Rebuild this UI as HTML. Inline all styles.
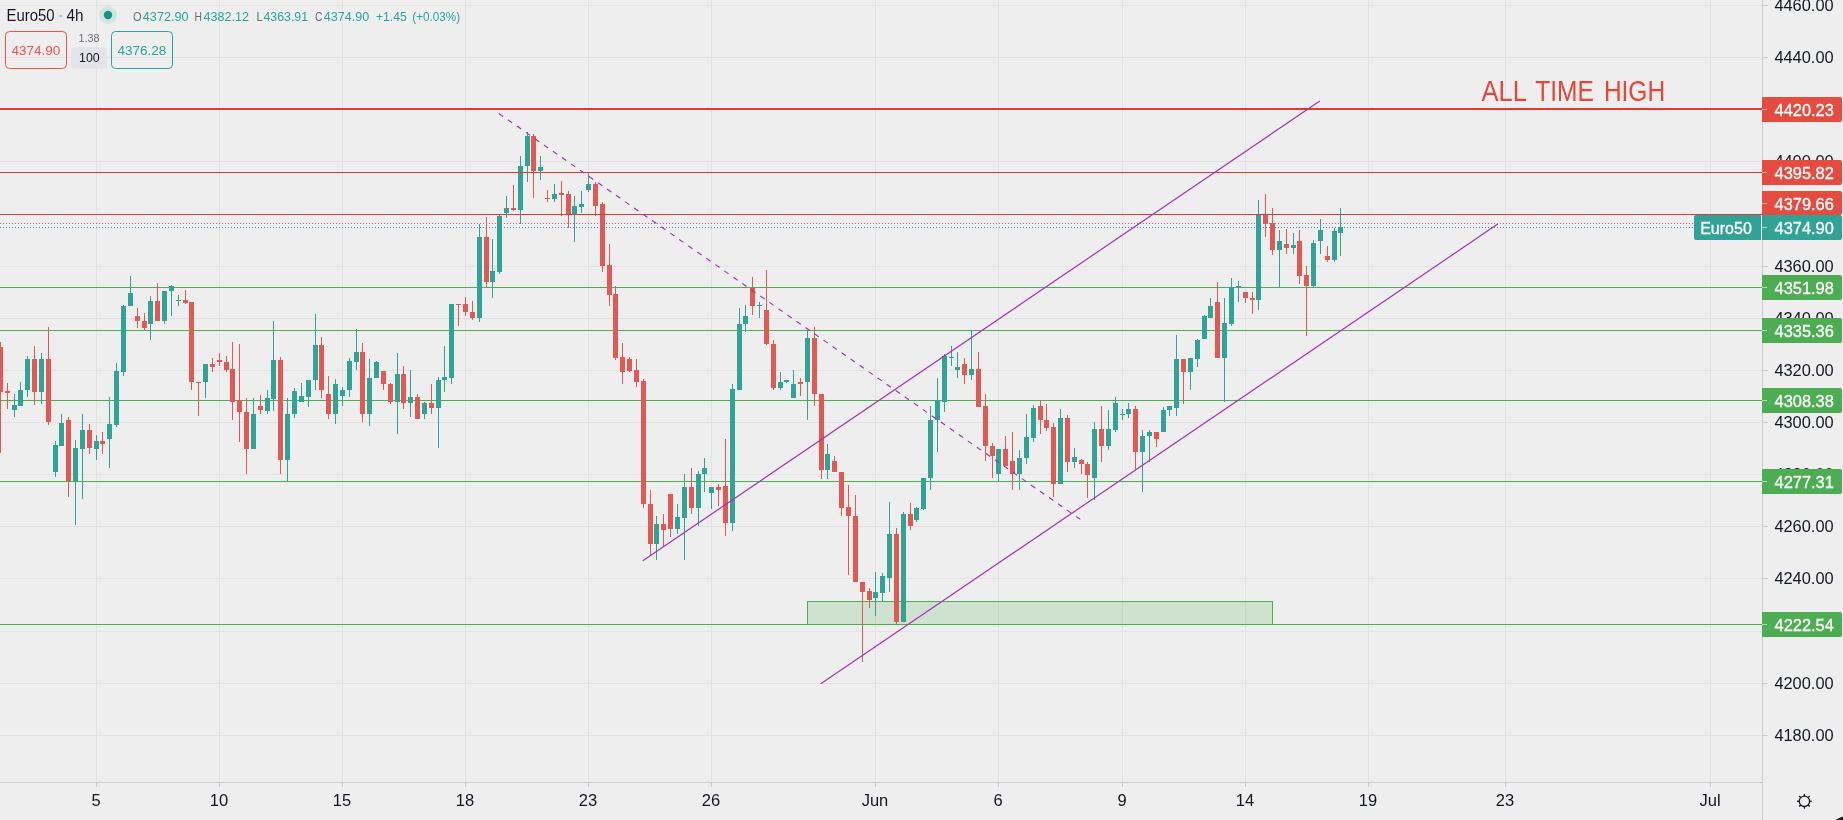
<!DOCTYPE html>
<html><head><meta charset="utf-8"><title>Euro50 4h</title>
<style>
html,body{margin:0;padding:0;background:#eeeeee;width:1843px;height:820px;overflow:hidden;}
svg{display:block;font-family:"Liberation Sans", sans-serif;will-change:transform;}
</style></head><body>
<svg width="1843" height="820" viewBox="0 0 1843 820">
<rect x="0" y="0" width="1843" height="820" fill="#eeeeee"/>
<g fill="#e2e2e2" shape-rendering="crispEdges">
<rect x="0" y="5" width="1762" height="1"/>
<rect x="0" y="57" width="1762" height="1"/>
<rect x="0" y="109" width="1762" height="1"/>
<rect x="0" y="161" width="1762" height="1"/>
<rect x="0" y="214" width="1762" height="1"/>
<rect x="0" y="266" width="1762" height="1"/>
<rect x="0" y="318" width="1762" height="1"/>
<rect x="0" y="370" width="1762" height="1"/>
<rect x="0" y="422" width="1762" height="1"/>
<rect x="0" y="474" width="1762" height="1"/>
<rect x="0" y="526" width="1762" height="1"/>
<rect x="0" y="578" width="1762" height="1"/>
<rect x="0" y="631" width="1762" height="1"/>
<rect x="0" y="683" width="1762" height="1"/>
<rect x="0" y="735" width="1762" height="1"/>
<rect x="96" y="0" width="1" height="782"/>
<rect x="219" y="0" width="1" height="782"/>
<rect x="342" y="0" width="1" height="782"/>
<rect x="465" y="0" width="1" height="782"/>
<rect x="588" y="0" width="1" height="782"/>
<rect x="711" y="0" width="1" height="782"/>
<rect x="875" y="0" width="1" height="782"/>
<rect x="998" y="0" width="1" height="782"/>
<rect x="1122" y="0" width="1" height="782"/>
<rect x="1245" y="0" width="1" height="782"/>
<rect x="1368" y="0" width="1" height="782"/>
<rect x="1505" y="0" width="1" height="782"/>
<rect x="1710" y="0" width="1" height="782"/>
</g>
<rect x="807.5" y="601.5" width="465" height="23" fill="#4dad52" fill-opacity="0.19" stroke="#4dad52" stroke-width="1" shape-rendering="crispEdges"/>
<g fill="#4dad52" shape-rendering="crispEdges">
<rect x="0" y="287" width="1762" height="1"/>
<rect x="0" y="330" width="1762" height="1"/>
<rect x="0" y="400" width="1762" height="1"/>
<rect x="0" y="481" width="1762" height="1"/>
<rect x="0" y="624" width="1762" height="1"/>
</g>
<g shape-rendering="crispEdges">
<rect x="0" y="342" width="1" height="111" fill="#e15955"/>
<rect x="-2" y="347" width="5" height="45" fill="#e15955"/>
<rect x="7" y="383" width="1" height="26" fill="#e15955"/>
<rect x="5" y="391" width="5" height="2" fill="#e15955"/>
<rect x="14" y="394" width="1" height="23" fill="#30a296"/>
<rect x="12" y="405" width="5" height="5" fill="#30a296"/>
<rect x="20" y="382" width="1" height="24" fill="#30a296"/>
<rect x="18" y="390" width="5" height="16" fill="#30a296"/>
<rect x="27" y="356" width="1" height="41" fill="#30a296"/>
<rect x="25" y="359" width="5" height="31" fill="#30a296"/>
<rect x="34" y="346" width="1" height="59" fill="#e15955"/>
<rect x="32" y="359" width="5" height="33" fill="#e15955"/>
<rect x="41" y="353" width="1" height="51" fill="#30a296"/>
<rect x="39" y="359" width="5" height="33" fill="#30a296"/>
<rect x="48" y="327" width="1" height="98" fill="#e15955"/>
<rect x="46" y="359" width="5" height="63" fill="#e15955"/>
<rect x="55" y="441" width="1" height="36" fill="#30a296"/>
<rect x="53" y="445" width="5" height="27" fill="#30a296"/>
<rect x="61" y="414" width="1" height="32" fill="#30a296"/>
<rect x="59" y="423" width="5" height="23" fill="#30a296"/>
<rect x="68" y="417" width="1" height="80" fill="#e15955"/>
<rect x="66" y="420" width="5" height="61" fill="#e15955"/>
<rect x="75" y="440" width="1" height="85" fill="#30a296"/>
<rect x="73" y="448" width="5" height="33" fill="#30a296"/>
<rect x="82" y="414" width="1" height="85" fill="#30a296"/>
<rect x="80" y="430" width="5" height="19" fill="#30a296"/>
<rect x="89" y="424" width="1" height="30" fill="#e15955"/>
<rect x="87" y="430" width="5" height="18" fill="#e15955"/>
<rect x="96" y="435" width="1" height="25" fill="#30a296"/>
<rect x="94" y="441" width="5" height="8" fill="#30a296"/>
<rect x="102" y="432" width="1" height="22" fill="#e15955"/>
<rect x="100" y="441" width="5" height="3" fill="#e15955"/>
<rect x="109" y="397" width="1" height="71" fill="#30a296"/>
<rect x="107" y="424" width="5" height="15" fill="#30a296"/>
<rect x="116" y="363" width="1" height="64" fill="#30a296"/>
<rect x="114" y="371" width="5" height="54" fill="#30a296"/>
<rect x="123" y="305" width="1" height="71" fill="#30a296"/>
<rect x="121" y="306" width="5" height="66" fill="#30a296"/>
<rect x="130" y="276" width="1" height="30" fill="#30a296"/>
<rect x="128" y="293" width="5" height="13" fill="#30a296"/>
<rect x="137" y="308" width="1" height="20" fill="#e15955"/>
<rect x="135" y="316" width="5" height="5" fill="#e15955"/>
<rect x="144" y="313" width="1" height="17" fill="#e15955"/>
<rect x="142" y="321" width="5" height="7" fill="#e15955"/>
<rect x="150" y="296" width="1" height="44" fill="#30a296"/>
<rect x="148" y="301" width="5" height="23" fill="#30a296"/>
<rect x="157" y="283" width="1" height="38" fill="#e15955"/>
<rect x="155" y="301" width="5" height="20" fill="#e15955"/>
<rect x="164" y="291" width="1" height="33" fill="#30a296"/>
<rect x="162" y="291" width="5" height="30" fill="#30a296"/>
<rect x="171" y="285" width="1" height="31" fill="#30a296"/>
<rect x="169" y="286" width="5" height="5" fill="#30a296"/>
<rect x="178" y="295" width="1" height="11" fill="#30a296"/>
<rect x="176" y="300" width="5" height="1" fill="#30a296"/>
<rect x="185" y="290" width="1" height="14" fill="#e15955"/>
<rect x="183" y="300" width="5" height="3" fill="#e15955"/>
<rect x="191" y="302" width="1" height="88" fill="#e15955"/>
<rect x="189" y="302" width="5" height="80" fill="#e15955"/>
<rect x="198" y="382" width="1" height="34" fill="#e15955"/>
<rect x="196" y="382" width="5" height="1" fill="#e15955"/>
<rect x="205" y="364" width="1" height="34" fill="#30a296"/>
<rect x="203" y="364" width="5" height="18" fill="#30a296"/>
<rect x="212" y="358" width="1" height="14" fill="#e15955"/>
<rect x="210" y="364" width="5" height="3" fill="#e15955"/>
<rect x="219" y="353" width="1" height="13" fill="#e15955"/>
<rect x="217" y="360" width="5" height="2" fill="#e15955"/>
<rect x="226" y="356" width="1" height="16" fill="#e15955"/>
<rect x="224" y="362" width="5" height="8" fill="#e15955"/>
<rect x="232" y="342" width="1" height="78" fill="#e15955"/>
<rect x="230" y="369" width="5" height="33" fill="#e15955"/>
<rect x="239" y="344" width="1" height="98" fill="#e15955"/>
<rect x="237" y="400" width="5" height="12" fill="#e15955"/>
<rect x="246" y="398" width="1" height="76" fill="#e15955"/>
<rect x="244" y="412" width="5" height="37" fill="#e15955"/>
<rect x="253" y="398" width="1" height="51" fill="#30a296"/>
<rect x="251" y="414" width="5" height="35" fill="#30a296"/>
<rect x="260" y="395" width="1" height="19" fill="#e15955"/>
<rect x="258" y="406" width="5" height="4" fill="#e15955"/>
<rect x="267" y="390" width="1" height="24" fill="#30a296"/>
<rect x="265" y="398" width="5" height="13" fill="#30a296"/>
<rect x="273" y="321" width="1" height="90" fill="#30a296"/>
<rect x="271" y="360" width="5" height="39" fill="#30a296"/>
<rect x="280" y="357" width="1" height="117" fill="#e15955"/>
<rect x="278" y="360" width="5" height="100" fill="#e15955"/>
<rect x="287" y="398" width="1" height="84" fill="#30a296"/>
<rect x="285" y="414" width="5" height="46" fill="#30a296"/>
<rect x="294" y="388" width="1" height="30" fill="#30a296"/>
<rect x="292" y="391" width="5" height="23" fill="#30a296"/>
<rect x="301" y="383" width="1" height="19" fill="#30a296"/>
<rect x="299" y="396" width="5" height="6" fill="#30a296"/>
<rect x="308" y="380" width="1" height="27" fill="#30a296"/>
<rect x="306" y="380" width="5" height="17" fill="#30a296"/>
<rect x="315" y="314" width="1" height="76" fill="#30a296"/>
<rect x="313" y="345" width="5" height="35" fill="#30a296"/>
<rect x="321" y="337" width="1" height="61" fill="#e15955"/>
<rect x="319" y="345" width="5" height="45" fill="#e15955"/>
<rect x="328" y="376" width="1" height="43" fill="#e15955"/>
<rect x="326" y="394" width="5" height="20" fill="#e15955"/>
<rect x="335" y="379" width="1" height="45" fill="#30a296"/>
<rect x="333" y="384" width="5" height="30" fill="#30a296"/>
<rect x="342" y="387" width="1" height="19" fill="#30a296"/>
<rect x="340" y="390" width="5" height="6" fill="#30a296"/>
<rect x="349" y="358" width="1" height="39" fill="#30a296"/>
<rect x="347" y="361" width="5" height="29" fill="#30a296"/>
<rect x="356" y="329" width="1" height="41" fill="#30a296"/>
<rect x="354" y="352" width="5" height="10" fill="#30a296"/>
<rect x="362" y="343" width="1" height="79" fill="#e15955"/>
<rect x="360" y="352" width="5" height="62" fill="#e15955"/>
<rect x="369" y="359" width="1" height="67" fill="#30a296"/>
<rect x="367" y="378" width="5" height="36" fill="#30a296"/>
<rect x="376" y="361" width="1" height="17" fill="#30a296"/>
<rect x="374" y="362" width="5" height="16" fill="#30a296"/>
<rect x="383" y="371" width="1" height="19" fill="#e15955"/>
<rect x="381" y="371" width="5" height="13" fill="#e15955"/>
<rect x="390" y="383" width="1" height="21" fill="#e15955"/>
<rect x="388" y="384" width="5" height="18" fill="#e15955"/>
<rect x="397" y="353" width="1" height="81" fill="#30a296"/>
<rect x="395" y="374" width="5" height="28" fill="#30a296"/>
<rect x="403" y="366" width="1" height="43" fill="#e15955"/>
<rect x="401" y="374" width="5" height="29" fill="#e15955"/>
<rect x="410" y="370" width="1" height="47" fill="#30a296"/>
<rect x="408" y="397" width="5" height="6" fill="#30a296"/>
<rect x="417" y="394" width="1" height="25" fill="#e15955"/>
<rect x="415" y="397" width="5" height="22" fill="#e15955"/>
<rect x="424" y="402" width="1" height="17" fill="#30a296"/>
<rect x="422" y="403" width="5" height="11" fill="#30a296"/>
<rect x="431" y="384" width="1" height="30" fill="#e15955"/>
<rect x="429" y="403" width="5" height="5" fill="#e15955"/>
<rect x="438" y="377" width="1" height="71" fill="#30a296"/>
<rect x="436" y="380" width="5" height="28" fill="#30a296"/>
<rect x="444" y="346" width="1" height="46" fill="#30a296"/>
<rect x="442" y="377" width="5" height="3" fill="#30a296"/>
<rect x="451" y="304" width="1" height="80" fill="#30a296"/>
<rect x="449" y="304" width="5" height="74" fill="#30a296"/>
<rect x="458" y="304" width="1" height="22" fill="#e15955"/>
<rect x="456" y="304" width="5" height="1" fill="#e15955"/>
<rect x="465" y="297" width="1" height="19" fill="#e15955"/>
<rect x="463" y="304" width="5" height="8" fill="#e15955"/>
<rect x="472" y="301" width="1" height="19" fill="#e15955"/>
<rect x="470" y="312" width="5" height="6" fill="#e15955"/>
<rect x="479" y="224" width="1" height="98" fill="#30a296"/>
<rect x="477" y="237" width="5" height="81" fill="#30a296"/>
<rect x="486" y="217" width="1" height="70" fill="#e15955"/>
<rect x="484" y="237" width="5" height="45" fill="#e15955"/>
<rect x="492" y="239" width="1" height="59" fill="#30a296"/>
<rect x="490" y="271" width="5" height="11" fill="#30a296"/>
<rect x="499" y="214" width="1" height="60" fill="#30a296"/>
<rect x="497" y="216" width="5" height="56" fill="#30a296"/>
<rect x="506" y="196" width="1" height="22" fill="#30a296"/>
<rect x="504" y="208" width="5" height="5" fill="#30a296"/>
<rect x="513" y="185" width="1" height="26" fill="#e15955"/>
<rect x="511" y="208" width="5" height="2" fill="#e15955"/>
<rect x="520" y="156" width="1" height="68" fill="#30a296"/>
<rect x="518" y="166" width="5" height="44" fill="#30a296"/>
<rect x="527" y="132" width="1" height="50" fill="#30a296"/>
<rect x="525" y="136" width="5" height="30" fill="#30a296"/>
<rect x="533" y="134" width="1" height="64" fill="#e15955"/>
<rect x="531" y="136" width="5" height="35" fill="#e15955"/>
<rect x="540" y="156" width="1" height="24" fill="#30a296"/>
<rect x="538" y="167" width="5" height="4" fill="#30a296"/>
<rect x="547" y="190" width="1" height="12" fill="#e15955"/>
<rect x="545" y="198" width="5" height="1" fill="#e15955"/>
<rect x="554" y="184" width="1" height="18" fill="#30a296"/>
<rect x="552" y="194" width="5" height="5" fill="#30a296"/>
<rect x="561" y="181" width="1" height="35" fill="#e15955"/>
<rect x="559" y="193" width="5" height="2" fill="#e15955"/>
<rect x="568" y="191" width="1" height="37" fill="#e15955"/>
<rect x="566" y="194" width="5" height="20" fill="#e15955"/>
<rect x="574" y="196" width="1" height="46" fill="#30a296"/>
<rect x="572" y="206" width="5" height="9" fill="#30a296"/>
<rect x="581" y="191" width="1" height="22" fill="#30a296"/>
<rect x="579" y="204" width="5" height="3" fill="#30a296"/>
<rect x="588" y="172" width="1" height="20" fill="#30a296"/>
<rect x="586" y="184" width="5" height="6" fill="#30a296"/>
<rect x="595" y="182" width="1" height="34" fill="#e15955"/>
<rect x="593" y="184" width="5" height="22" fill="#e15955"/>
<rect x="602" y="202" width="1" height="70" fill="#e15955"/>
<rect x="600" y="204" width="5" height="62" fill="#e15955"/>
<rect x="609" y="244" width="1" height="62" fill="#e15955"/>
<rect x="607" y="265" width="5" height="30" fill="#e15955"/>
<rect x="615" y="286" width="1" height="74" fill="#e15955"/>
<rect x="613" y="294" width="5" height="64" fill="#e15955"/>
<rect x="622" y="343" width="1" height="41" fill="#e15955"/>
<rect x="620" y="357" width="5" height="15" fill="#e15955"/>
<rect x="629" y="357" width="1" height="15" fill="#e15955"/>
<rect x="627" y="359" width="5" height="12" fill="#e15955"/>
<rect x="636" y="359" width="1" height="28" fill="#e15955"/>
<rect x="634" y="370" width="5" height="12" fill="#e15955"/>
<rect x="643" y="379" width="1" height="129" fill="#e15955"/>
<rect x="641" y="381" width="5" height="123" fill="#e15955"/>
<rect x="650" y="490" width="1" height="66" fill="#e15955"/>
<rect x="648" y="504" width="5" height="40" fill="#e15955"/>
<rect x="656" y="516" width="1" height="44" fill="#30a296"/>
<rect x="654" y="524" width="5" height="20" fill="#30a296"/>
<rect x="663" y="514" width="1" height="32" fill="#e15955"/>
<rect x="661" y="524" width="5" height="6" fill="#e15955"/>
<rect x="670" y="494" width="1" height="43" fill="#e15955"/>
<rect x="668" y="494" width="5" height="35" fill="#e15955"/>
<rect x="677" y="504" width="1" height="30" fill="#30a296"/>
<rect x="675" y="517" width="5" height="12" fill="#30a296"/>
<rect x="684" y="474" width="1" height="86" fill="#30a296"/>
<rect x="682" y="487" width="5" height="31" fill="#30a296"/>
<rect x="691" y="468" width="1" height="46" fill="#e15955"/>
<rect x="689" y="487" width="5" height="21" fill="#e15955"/>
<rect x="698" y="471" width="1" height="55" fill="#30a296"/>
<rect x="696" y="474" width="5" height="34" fill="#30a296"/>
<rect x="704" y="458" width="1" height="34" fill="#30a296"/>
<rect x="702" y="468" width="5" height="6" fill="#30a296"/>
<rect x="711" y="487" width="1" height="22" fill="#30a296"/>
<rect x="709" y="487" width="5" height="6" fill="#30a296"/>
<rect x="718" y="484" width="1" height="22" fill="#e15955"/>
<rect x="716" y="487" width="5" height="3" fill="#e15955"/>
<rect x="725" y="439" width="1" height="97" fill="#e15955"/>
<rect x="723" y="486" width="5" height="37" fill="#e15955"/>
<rect x="732" y="384" width="1" height="147" fill="#30a296"/>
<rect x="730" y="389" width="5" height="134" fill="#30a296"/>
<rect x="739" y="308" width="1" height="82" fill="#30a296"/>
<rect x="737" y="324" width="5" height="66" fill="#30a296"/>
<rect x="745" y="305" width="1" height="27" fill="#30a296"/>
<rect x="743" y="316" width="5" height="8" fill="#30a296"/>
<rect x="752" y="277" width="1" height="38" fill="#e15955"/>
<rect x="750" y="288" width="5" height="18" fill="#e15955"/>
<rect x="759" y="302" width="1" height="16" fill="#30a296"/>
<rect x="757" y="305" width="5" height="1" fill="#30a296"/>
<rect x="766" y="270" width="1" height="75" fill="#e15955"/>
<rect x="764" y="310" width="5" height="34" fill="#e15955"/>
<rect x="773" y="340" width="1" height="50" fill="#e15955"/>
<rect x="771" y="344" width="5" height="44" fill="#e15955"/>
<rect x="780" y="372" width="1" height="18" fill="#30a296"/>
<rect x="778" y="382" width="5" height="6" fill="#30a296"/>
<rect x="786" y="380" width="1" height="3" fill="#30a296"/>
<rect x="784" y="380" width="5" height="2" fill="#30a296"/>
<rect x="793" y="370" width="1" height="28" fill="#30a296"/>
<rect x="791" y="384" width="5" height="14" fill="#30a296"/>
<rect x="800" y="378" width="1" height="18" fill="#e15955"/>
<rect x="798" y="382" width="5" height="2" fill="#e15955"/>
<rect x="807" y="330" width="1" height="90" fill="#30a296"/>
<rect x="805" y="338" width="5" height="44" fill="#30a296"/>
<rect x="814" y="327" width="1" height="79" fill="#e15955"/>
<rect x="812" y="338" width="5" height="56" fill="#e15955"/>
<rect x="821" y="394" width="1" height="85" fill="#e15955"/>
<rect x="819" y="394" width="5" height="76" fill="#e15955"/>
<rect x="827" y="444" width="1" height="35" fill="#30a296"/>
<rect x="825" y="454" width="5" height="16" fill="#30a296"/>
<rect x="834" y="456" width="1" height="16" fill="#e15955"/>
<rect x="832" y="461" width="5" height="11" fill="#e15955"/>
<rect x="841" y="472" width="1" height="44" fill="#e15955"/>
<rect x="839" y="472" width="5" height="36" fill="#e15955"/>
<rect x="848" y="485" width="1" height="90" fill="#e15955"/>
<rect x="846" y="507" width="5" height="9" fill="#e15955"/>
<rect x="855" y="495" width="1" height="87" fill="#e15955"/>
<rect x="853" y="516" width="5" height="66" fill="#e15955"/>
<rect x="862" y="582" width="1" height="80" fill="#e15955"/>
<rect x="860" y="582" width="5" height="10" fill="#e15955"/>
<rect x="869" y="588" width="1" height="20" fill="#e15955"/>
<rect x="867" y="591" width="5" height="9" fill="#e15955"/>
<rect x="875" y="572" width="1" height="44" fill="#30a296"/>
<rect x="873" y="592" width="5" height="6" fill="#30a296"/>
<rect x="882" y="573" width="1" height="29" fill="#30a296"/>
<rect x="880" y="576" width="5" height="17" fill="#30a296"/>
<rect x="889" y="502" width="1" height="90" fill="#30a296"/>
<rect x="887" y="534" width="5" height="44" fill="#30a296"/>
<rect x="896" y="528" width="1" height="96" fill="#e15955"/>
<rect x="894" y="534" width="5" height="88" fill="#e15955"/>
<rect x="903" y="512" width="1" height="110" fill="#30a296"/>
<rect x="901" y="514" width="5" height="108" fill="#30a296"/>
<rect x="910" y="503" width="1" height="27" fill="#e15955"/>
<rect x="908" y="514" width="5" height="12" fill="#e15955"/>
<rect x="916" y="507" width="1" height="15" fill="#30a296"/>
<rect x="914" y="508" width="5" height="12" fill="#30a296"/>
<rect x="923" y="478" width="1" height="32" fill="#30a296"/>
<rect x="921" y="478" width="5" height="31" fill="#30a296"/>
<rect x="930" y="406" width="1" height="84" fill="#30a296"/>
<rect x="928" y="420" width="5" height="58" fill="#30a296"/>
<rect x="937" y="378" width="1" height="74" fill="#30a296"/>
<rect x="935" y="400" width="5" height="20" fill="#30a296"/>
<rect x="944" y="354" width="1" height="58" fill="#30a296"/>
<rect x="942" y="356" width="5" height="46" fill="#30a296"/>
<rect x="951" y="346" width="1" height="20" fill="#30a296"/>
<rect x="949" y="357" width="5" height="1" fill="#30a296"/>
<rect x="957" y="352" width="1" height="26" fill="#30a296"/>
<rect x="955" y="367" width="5" height="3" fill="#30a296"/>
<rect x="964" y="358" width="1" height="26" fill="#e15955"/>
<rect x="962" y="364" width="5" height="11" fill="#e15955"/>
<rect x="971" y="330" width="1" height="50" fill="#30a296"/>
<rect x="969" y="369" width="5" height="6" fill="#30a296"/>
<rect x="978" y="352" width="1" height="55" fill="#e15955"/>
<rect x="976" y="369" width="5" height="38" fill="#e15955"/>
<rect x="985" y="394" width="1" height="67" fill="#e15955"/>
<rect x="983" y="406" width="5" height="40" fill="#e15955"/>
<rect x="992" y="443" width="1" height="35" fill="#e15955"/>
<rect x="990" y="446" width="5" height="10" fill="#e15955"/>
<rect x="998" y="449" width="1" height="32" fill="#30a296"/>
<rect x="996" y="449" width="5" height="25" fill="#30a296"/>
<rect x="1005" y="436" width="1" height="30" fill="#e15955"/>
<rect x="1003" y="449" width="5" height="17" fill="#e15955"/>
<rect x="1012" y="432" width="1" height="58" fill="#e15955"/>
<rect x="1010" y="461" width="5" height="13" fill="#e15955"/>
<rect x="1019" y="450" width="1" height="40" fill="#30a296"/>
<rect x="1017" y="458" width="5" height="16" fill="#30a296"/>
<rect x="1026" y="414" width="1" height="50" fill="#30a296"/>
<rect x="1024" y="437" width="5" height="21" fill="#30a296"/>
<rect x="1033" y="405" width="1" height="37" fill="#30a296"/>
<rect x="1031" y="408" width="5" height="30" fill="#30a296"/>
<rect x="1040" y="400" width="1" height="34" fill="#e15955"/>
<rect x="1038" y="406" width="5" height="14" fill="#e15955"/>
<rect x="1046" y="404" width="1" height="27" fill="#e15955"/>
<rect x="1044" y="420" width="5" height="8" fill="#e15955"/>
<rect x="1053" y="423" width="1" height="74" fill="#e15955"/>
<rect x="1051" y="427" width="5" height="57" fill="#e15955"/>
<rect x="1060" y="409" width="1" height="75" fill="#30a296"/>
<rect x="1058" y="418" width="5" height="66" fill="#30a296"/>
<rect x="1067" y="415" width="1" height="57" fill="#e15955"/>
<rect x="1065" y="418" width="5" height="44" fill="#e15955"/>
<rect x="1074" y="448" width="1" height="20" fill="#30a296"/>
<rect x="1072" y="457" width="5" height="5" fill="#30a296"/>
<rect x="1081" y="459" width="1" height="15" fill="#e15955"/>
<rect x="1079" y="460" width="5" height="4" fill="#e15955"/>
<rect x="1087" y="462" width="1" height="36" fill="#e15955"/>
<rect x="1085" y="464" width="5" height="11" fill="#e15955"/>
<rect x="1094" y="422" width="1" height="78" fill="#30a296"/>
<rect x="1092" y="429" width="5" height="49" fill="#30a296"/>
<rect x="1101" y="406" width="1" height="56" fill="#e15955"/>
<rect x="1099" y="429" width="5" height="17" fill="#e15955"/>
<rect x="1108" y="410" width="1" height="40" fill="#30a296"/>
<rect x="1106" y="429" width="5" height="17" fill="#30a296"/>
<rect x="1115" y="397" width="1" height="35" fill="#30a296"/>
<rect x="1113" y="403" width="5" height="27" fill="#30a296"/>
<rect x="1122" y="409" width="1" height="11" fill="#30a296"/>
<rect x="1120" y="414" width="5" height="1" fill="#30a296"/>
<rect x="1128" y="403" width="1" height="15" fill="#30a296"/>
<rect x="1126" y="409" width="5" height="5" fill="#30a296"/>
<rect x="1135" y="406" width="1" height="64" fill="#e15955"/>
<rect x="1133" y="409" width="5" height="43" fill="#e15955"/>
<rect x="1142" y="430" width="1" height="62" fill="#30a296"/>
<rect x="1140" y="436" width="5" height="16" fill="#30a296"/>
<rect x="1149" y="430" width="1" height="32" fill="#30a296"/>
<rect x="1147" y="432" width="5" height="4" fill="#30a296"/>
<rect x="1156" y="432" width="1" height="15" fill="#e15955"/>
<rect x="1154" y="432" width="5" height="7" fill="#e15955"/>
<rect x="1163" y="407" width="1" height="25" fill="#30a296"/>
<rect x="1161" y="410" width="5" height="22" fill="#30a296"/>
<rect x="1169" y="406" width="1" height="10" fill="#30a296"/>
<rect x="1167" y="406" width="5" height="4" fill="#30a296"/>
<rect x="1176" y="335" width="1" height="81" fill="#30a296"/>
<rect x="1174" y="359" width="5" height="49" fill="#30a296"/>
<rect x="1183" y="359" width="1" height="45" fill="#e15955"/>
<rect x="1181" y="359" width="5" height="13" fill="#e15955"/>
<rect x="1190" y="358" width="1" height="32" fill="#30a296"/>
<rect x="1188" y="358" width="5" height="14" fill="#30a296"/>
<rect x="1197" y="339" width="1" height="28" fill="#30a296"/>
<rect x="1195" y="340" width="5" height="19" fill="#30a296"/>
<rect x="1204" y="315" width="1" height="24" fill="#30a296"/>
<rect x="1202" y="316" width="5" height="23" fill="#30a296"/>
<rect x="1210" y="298" width="1" height="20" fill="#30a296"/>
<rect x="1208" y="306" width="5" height="12" fill="#30a296"/>
<rect x="1217" y="282" width="1" height="76" fill="#e15955"/>
<rect x="1215" y="302" width="5" height="56" fill="#e15955"/>
<rect x="1224" y="298" width="1" height="104" fill="#30a296"/>
<rect x="1222" y="323" width="5" height="35" fill="#30a296"/>
<rect x="1231" y="278" width="1" height="48" fill="#30a296"/>
<rect x="1229" y="287" width="5" height="37" fill="#30a296"/>
<rect x="1238" y="281" width="1" height="21" fill="#30a296"/>
<rect x="1236" y="286" width="5" height="1" fill="#30a296"/>
<rect x="1245" y="292" width="1" height="11" fill="#e15955"/>
<rect x="1243" y="292" width="5" height="6" fill="#e15955"/>
<rect x="1252" y="292" width="1" height="22" fill="#e15955"/>
<rect x="1250" y="298" width="5" height="2" fill="#e15955"/>
<rect x="1258" y="200" width="1" height="110" fill="#30a296"/>
<rect x="1256" y="214" width="5" height="86" fill="#30a296"/>
<rect x="1265" y="194" width="1" height="43" fill="#e15955"/>
<rect x="1263" y="214" width="5" height="10" fill="#e15955"/>
<rect x="1272" y="208" width="1" height="47" fill="#e15955"/>
<rect x="1270" y="223" width="5" height="27" fill="#e15955"/>
<rect x="1279" y="230" width="1" height="57" fill="#30a296"/>
<rect x="1277" y="241" width="5" height="9" fill="#30a296"/>
<rect x="1286" y="229" width="1" height="25" fill="#e15955"/>
<rect x="1284" y="244" width="5" height="4" fill="#e15955"/>
<rect x="1293" y="233" width="1" height="21" fill="#30a296"/>
<rect x="1291" y="245" width="5" height="3" fill="#30a296"/>
<rect x="1299" y="230" width="1" height="54" fill="#e15955"/>
<rect x="1297" y="241" width="5" height="35" fill="#e15955"/>
<rect x="1306" y="266" width="1" height="70" fill="#e15955"/>
<rect x="1304" y="275" width="5" height="11" fill="#e15955"/>
<rect x="1313" y="240" width="1" height="48" fill="#30a296"/>
<rect x="1311" y="243" width="5" height="43" fill="#30a296"/>
<rect x="1320" y="219" width="1" height="35" fill="#30a296"/>
<rect x="1318" y="230" width="5" height="11" fill="#30a296"/>
<rect x="1327" y="246" width="1" height="16" fill="#e15955"/>
<rect x="1325" y="256" width="5" height="4" fill="#e15955"/>
<rect x="1334" y="228" width="1" height="34" fill="#30a296"/>
<rect x="1332" y="231" width="5" height="29" fill="#30a296"/>
<rect x="1340" y="208" width="1" height="48" fill="#30a296"/>
<rect x="1338" y="227" width="5" height="6" fill="#30a296"/>
</g>
<g fill="#e3392f" shape-rendering="crispEdges">
<rect x="0" y="108" width="1762" height="2"/>
<rect x="0" y="172" width="1762" height="1"/>
<rect x="0" y="214" width="1762" height="1"/>
</g>
<line x1="0" y1="223.5" x2="1762" y2="223.5" stroke="#ef5350" stroke-width="1" stroke-dasharray="1 2" shape-rendering="crispEdges"/>
<line x1="0" y1="227.5" x2="1762" y2="227.5" stroke="#2196f3" stroke-width="1" stroke-dasharray="1 2" shape-rendering="crispEdges"/>
<g stroke="#a133b6" stroke-width="1.2" fill="none">
<line x1="642.8" y1="560.7" x2="1319.8" y2="101"/>
<line x1="820.8" y1="683.7" x2="1497.7" y2="224.1"/>
<line x1="498.8" y1="113.5" x2="1080.5" y2="519.5" stroke-dasharray="5.2 5.8" stroke-width="1.15"/>
</g>
<g font-size="29.5" fill="#e4463a">
<text x="1481.6" y="101.2" textLength="45.4" lengthAdjust="spacingAndGlyphs">ALL</text>
<text x="1535.2" y="101.2" textLength="58.6" lengthAdjust="spacingAndGlyphs">TIME</text>
<text x="1603.9" y="101.2" textLength="61.2" lengthAdjust="spacingAndGlyphs">HIGH</text>
</g>
<rect x="1762" y="0" width="1" height="820" fill="#cacbd0"/>
<rect x="0" y="782" width="1762" height="1" fill="#cacbd0"/>
<g font-size="16.4" fill="#131722">
<rect x="1763" y="5" width="5" height="1" fill="#cacbd0"/>
<text x="1774.4" y="11.2">4460.00</text>
<rect x="1763" y="57" width="5" height="1" fill="#cacbd0"/>
<text x="1774.4" y="63.2">4440.00</text>
<rect x="1763" y="161" width="5" height="1" fill="#cacbd0"/>
<text x="1774.4" y="167.2">4400.00</text>
<rect x="1763" y="266" width="5" height="1" fill="#cacbd0"/>
<text x="1774.4" y="272.2">4360.00</text>
<rect x="1763" y="318" width="5" height="1" fill="#cacbd0"/>
<text x="1774.4" y="324.2">4340.00</text>
<rect x="1763" y="370" width="5" height="1" fill="#cacbd0"/>
<text x="1774.4" y="376.2">4320.00</text>
<rect x="1763" y="422" width="5" height="1" fill="#cacbd0"/>
<text x="1774.4" y="428.2">4300.00</text>
<rect x="1763" y="474" width="5" height="1" fill="#cacbd0"/>
<text x="1774.4" y="480.2">4280.00</text>
<rect x="1763" y="526" width="5" height="1" fill="#cacbd0"/>
<text x="1774.4" y="532.2">4260.00</text>
<rect x="1763" y="578" width="5" height="1" fill="#cacbd0"/>
<text x="1774.4" y="584.2">4240.00</text>
<rect x="1763" y="683" width="5" height="1" fill="#cacbd0"/>
<text x="1774.4" y="689.2">4200.00</text>
<rect x="1763" y="735" width="5" height="1" fill="#cacbd0"/>
<text x="1774.4" y="741.2">4180.00</text>
</g>
<path d="M1762 97 H1840 a2 2 0 0 1 2 2 V120 a2 2 0 0 1 -2 2 H1762 Z" fill="#e44c40"/>
<rect x="1762" y="109" width="5" height="1" fill="#ffffff" fill-opacity="0.6"/>
<text x="1774.6" y="115.8" font-size="16.4" fill="#ffffff" stroke="#ffffff" stroke-width="0.3">4420.23</text>
<path d="M1762 160 H1840 a2 2 0 0 1 2 2 V183 a2 2 0 0 1 -2 2 H1762 Z" fill="#e44c40"/>
<rect x="1762" y="172" width="5" height="1" fill="#ffffff" fill-opacity="0.6"/>
<text x="1774.6" y="178.8" font-size="16.4" fill="#ffffff" stroke="#ffffff" stroke-width="0.3">4395.82</text>
<path d="M1762 191 H1840 a2 2 0 0 1 2 2 V213 a2 2 0 0 1 -2 2 H1762 Z" fill="#e44c40"/>
<rect x="1762" y="203" width="5" height="1" fill="#ffffff" fill-opacity="0.6"/>
<text x="1774.6" y="209.8" font-size="16.4" fill="#ffffff" stroke="#ffffff" stroke-width="0.3">4379.66</text>
<path d="M1762 215 H1840 a2 2 0 0 1 2 2 V238 a2 2 0 0 1 -2 2 H1762 Z" fill="#30a296"/>
<rect x="1762" y="227" width="5" height="1" fill="#ffffff" fill-opacity="0.6"/>
<text x="1774.6" y="233.8" font-size="16.4" fill="#ffffff" stroke="#ffffff" stroke-width="0.3">4374.90</text>
<path d="M1762 275 H1840 a2 2 0 0 1 2 2 V298 a2 2 0 0 1 -2 2 H1762 Z" fill="#4dad52"/>
<rect x="1762" y="287" width="5" height="1" fill="#ffffff" fill-opacity="0.6"/>
<text x="1774.6" y="293.8" font-size="16.4" fill="#ffffff" stroke="#ffffff" stroke-width="0.3">4351.98</text>
<path d="M1762 318 H1840 a2 2 0 0 1 2 2 V341 a2 2 0 0 1 -2 2 H1762 Z" fill="#4dad52"/>
<rect x="1762" y="330" width="5" height="1" fill="#ffffff" fill-opacity="0.6"/>
<text x="1774.6" y="336.8" font-size="16.4" fill="#ffffff" stroke="#ffffff" stroke-width="0.3">4335.36</text>
<path d="M1762 388 H1840 a2 2 0 0 1 2 2 V411 a2 2 0 0 1 -2 2 H1762 Z" fill="#4dad52"/>
<rect x="1762" y="400" width="5" height="1" fill="#ffffff" fill-opacity="0.6"/>
<text x="1774.6" y="406.8" font-size="16.4" fill="#ffffff" stroke="#ffffff" stroke-width="0.3">4308.38</text>
<path d="M1762 469 H1840 a2 2 0 0 1 2 2 V492 a2 2 0 0 1 -2 2 H1762 Z" fill="#4dad52"/>
<rect x="1762" y="481" width="5" height="1" fill="#ffffff" fill-opacity="0.6"/>
<text x="1774.6" y="487.8" font-size="16.4" fill="#ffffff" stroke="#ffffff" stroke-width="0.3">4277.31</text>
<path d="M1762 612 H1840 a2 2 0 0 1 2 2 V635 a2 2 0 0 1 -2 2 H1762 Z" fill="#4dad52"/>
<rect x="1762" y="624" width="5" height="1" fill="#ffffff" fill-opacity="0.6"/>
<text x="1774.6" y="630.8" font-size="16.4" fill="#ffffff" stroke="#ffffff" stroke-width="0.3">4222.54</text>
<rect x="1761" y="215" width="1" height="25" fill="#f3f3f3"/>
<path d="M1696 215 H1761 V240 H1696 a2 2 0 0 1 -2 -2 V217 a2 2 0 0 1 2 -2 Z" fill="#30a296"/>
<text x="1700.2" y="233.8" font-size="16" fill="#ffffff" stroke="#ffffff" stroke-width="0.3">Euro50</text>
<g font-size="16.5" fill="#131722" text-anchor="middle">
<rect x="96" y="783" width="1" height="4" fill="#cacbd0"/>
<text x="96" y="806">5</text>
<rect x="219" y="783" width="1" height="4" fill="#cacbd0"/>
<text x="219" y="806">10</text>
<rect x="342" y="783" width="1" height="4" fill="#cacbd0"/>
<text x="342" y="806">15</text>
<rect x="465" y="783" width="1" height="4" fill="#cacbd0"/>
<text x="465" y="806">18</text>
<rect x="588" y="783" width="1" height="4" fill="#cacbd0"/>
<text x="588" y="806">23</text>
<rect x="711" y="783" width="1" height="4" fill="#cacbd0"/>
<text x="711" y="806">26</text>
<rect x="875" y="783" width="1" height="4" fill="#cacbd0"/>
<text x="875" y="806">Jun</text>
<rect x="998" y="783" width="1" height="4" fill="#cacbd0"/>
<text x="998" y="806">6</text>
<rect x="1122" y="783" width="1" height="4" fill="#cacbd0"/>
<text x="1122" y="806">9</text>
<rect x="1245" y="783" width="1" height="4" fill="#cacbd0"/>
<text x="1245" y="806">14</text>
<rect x="1368" y="783" width="1" height="4" fill="#cacbd0"/>
<text x="1368" y="806">19</text>
<rect x="1505" y="783" width="1" height="4" fill="#cacbd0"/>
<text x="1505" y="806">23</text>
<rect x="1710" y="783" width="1" height="4" fill="#cacbd0"/>
<text x="1710" y="806">Jul</text>
</g>
<g stroke="#131722" stroke-width="1.3" fill="none"><circle cx="1804.4" cy="801.3" r="5.2"/>
<line x1="1809.60" y1="801.30" x2="1811.80" y2="801.30"/>
<line x1="1808.08" y1="804.98" x2="1809.63" y2="806.53"/>
<line x1="1804.40" y1="806.50" x2="1804.40" y2="808.70"/>
<line x1="1800.72" y1="804.98" x2="1799.17" y2="806.53"/>
<line x1="1799.20" y1="801.30" x2="1797.00" y2="801.30"/>
<line x1="1800.72" y1="797.62" x2="1799.17" y2="796.07"/>
<line x1="1804.40" y1="796.10" x2="1804.40" y2="793.90"/>
<line x1="1808.08" y1="797.62" x2="1809.63" y2="796.07"/>
</g>
<text x="6.6" y="21" font-size="16" fill="#131722" textLength="48" lengthAdjust="spacingAndGlyphs">Euro50</text>
<circle cx="60.8" cy="16" r="1.2" fill="#b2b5be"/>
<text x="66.6" y="21" font-size="16" fill="#131722" textLength="17" lengthAdjust="spacingAndGlyphs">4h</text>
<circle cx="108" cy="15" r="9" fill="#d2e4e1"/>
<circle cx="108" cy="15" r="4.2" fill="#11958a"/>
<text x="132.9" y="21.3" font-size="12.7" fill="#6a6d78" textLength="8.6" lengthAdjust="spacingAndGlyphs">O</text>
<text x="142.8" y="21.3" font-size="12.7" fill="#26a69a" textLength="45.8" lengthAdjust="spacingAndGlyphs">4372.90</text>
<text x="194.6" y="21.3" font-size="12.7" fill="#6a6d78" textLength="7.5" lengthAdjust="spacingAndGlyphs">H</text>
<text x="203.6" y="21.3" font-size="12.7" fill="#26a69a" textLength="45.3" lengthAdjust="spacingAndGlyphs">4382.12</text>
<text x="256.4" y="21.3" font-size="12.7" fill="#6a6d78" textLength="6.2" lengthAdjust="spacingAndGlyphs">L</text>
<text x="263.5" y="21.3" font-size="12.7" fill="#26a69a" textLength="44.6" lengthAdjust="spacingAndGlyphs">4363.91</text>
<text x="315" y="21.3" font-size="12.7" fill="#6a6d78" textLength="7.5" lengthAdjust="spacingAndGlyphs">C</text>
<text x="323.8" y="21.3" font-size="12.7" fill="#26a69a" textLength="45.5" lengthAdjust="spacingAndGlyphs">4374.90</text>
<text x="376" y="21.3" font-size="12.7" fill="#26a69a" textLength="30.7" lengthAdjust="spacingAndGlyphs">+1.45</text>
<text x="412.3" y="21.3" font-size="12.7" fill="#26a69a" textLength="47.8" lengthAdjust="spacingAndGlyphs">(+0.03%)</text>
<rect x="5.5" y="31.5" width="61" height="37" rx="4" fill="none" stroke="#ef5350" stroke-width="1"/>
<text x="35.8" y="55.4" font-size="13.5" fill="#ef5350" text-anchor="middle">4374.90</text>
<text x="89" y="41.8" font-size="10.8" fill="#6a6d78" text-anchor="middle">1.38</text>
<rect x="71" y="47.2" width="36" height="21.4" rx="4" fill="#e3e4e9"/>
<text x="89.4" y="61.9" font-size="12.4" fill="#131722" text-anchor="middle">100</text>
<rect x="111.5" y="31.5" width="61" height="37" rx="4" fill="none" stroke="#26a69a" stroke-width="1"/>
<text x="141.8" y="55.4" font-size="13.5" fill="#26a69a" text-anchor="middle">4376.28</text>
<path d="M1835.5 820 Q1839 817.6 1843 816.4 V820 Z" fill="#1e1e1e"/>
</svg>
</body></html>
